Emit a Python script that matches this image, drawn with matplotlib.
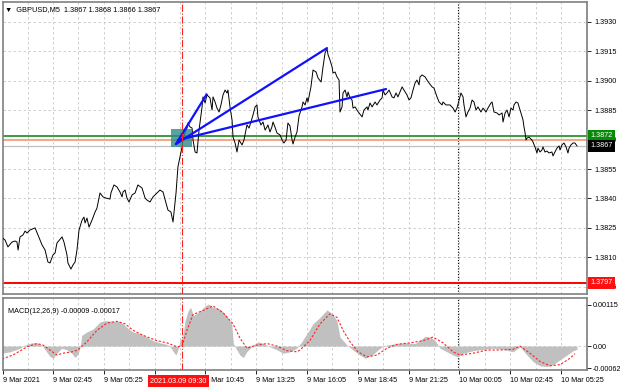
import matplotlib
matplotlib.use("Agg")
import matplotlib.pyplot as plt
import matplotlib.transforms as mtransforms
from matplotlib.patches import Rectangle
import numpy as np

plt.rcParams['font.family'] = ['Liberation Sans', 'DejaVu Sans']
plt.rcParams['font.size'] = 5.2

# x = 5-minute bars counted from 9 Mar 2021 00:00
price_bar = [1.3, 2.8, 4.6, 7.2, 9.1, 10.3, 11.0, 12.2, 14.1, 15.4, 16.6, 18.5, 21.7, 23.5, 26.1, 28.0,
             29.8, 31.1, 33.0, 34.3, 35.5, 38.7, 39.9, 41.8, 42.4, 44.3, 45.6, 46.9, 48.1, 49.4, 51.3,
             52.5, 53.2, 54.4, 55.7, 57.6, 59.5, 60.7, 62.6, 64.5, 66.4, 68.9, 69.5, 71.4, 73.3, 75.2,
             76.5, 77.1, 78.4, 79.6, 80.9, 82.8, 84.7, 86.5, 89.1, 91.0, 92.2, 94.1, 96.0, 98.5, 100.4,
             102.3, 104.2, 105.4, 107.3, 108.6, 109.2, 110.5, 111.7, 113.0, 114.3, 114.9, 116.2, 117.4,
             118.0, 119.3, 120.6, 121.2, 122.5, 123.7, 125.0, 126.9, 127.5, 128.8, 130.0, 131.9, 133.2,
             133.8, 135.1, 136.3, 137.6, 138.8, 140.1, 141.4, 142.6, 143.2, 144.5, 145.8, 146.4, 147.7,
             148.9, 150.2, 152.1, 153.3, 154.6, 155.2, 156.5, 157.7, 159.0, 160.3, 161.5, 162.1, 164.0,
             165.3, 166.6, 167.8, 168.4, 169.7, 170.9, 171.6, 172.8, 174.1, 176.0, 177.3, 178.5, 179.8,
             181.0, 182.3, 183.6, 184.2, 185.5, 186.7, 188.0, 189.9, 190.5, 191.8, 193.0, 193.6, 195.5,
             196.8, 198.7, 200.0, 201.9, 203.1, 204.4, 205.6, 206.3, 207.5, 208.8, 209.4, 210.7, 211.9,
             213.2, 213.8, 215.1, 215.7, 217.0, 218.2, 218.9, 220.1, 221.4, 222.0, 223.3, 224.5, 225.8,
             227.7, 228.9, 230.8, 231.4, 232.7, 234.0, 235.9, 237.1, 239.0, 240.3, 240.9, 242.2, 243.4,
             244.7, 246.6, 247.8, 249.1, 250.3, 251.6, 252.9, 254.1, 256.0, 257.3, 258.5, 259.8, 261.1,
             262.3, 263.6, 264.2, 265.5, 267.4, 268.6, 269.9, 271.8, 273.0, 274.9, 276.2, 278.1, 278.7,
             280.6, 283.1, 285.0, 286.3, 287.5, 288.8, 290.0, 291.3, 291.9, 293.2, 294.4, 295.7, 297.0,
             298.2, 299.5, 300.7, 302.6, 303.9, 305.8, 307.0, 308.9, 309.6, 310.8, 312.7, 314.0, 315.9,
             316.5, 317.8, 319.0, 320.3, 321.5, 322.8, 323.4, 324.7, 325.9, 326.6, 327.8, 329.1, 329.7,
             330.3, 331.0, 331.6, 332.9, 334.7, 335.4, 336.6, 337.9, 338.5, 339.8, 341.0, 341.7, 342.9,
             344.2, 345.4, 347.3, 348.0, 349.2, 350.5, 351.8, 352.4, 353.6, 354.9, 356.2, 357.4, 358.1,
             359.3, 360.6, 361.8, 363.1]
price = [1.38198, 1.38188, 1.38153, 1.38178, 1.38183, 1.38178, 1.38137, 1.38204, 1.38214, 1.38234,
         1.38224, 1.38239, 1.38250, 1.38214, 1.38163, 1.38137, 1.38076, 1.38071, 1.38112, 1.38122,
         1.38173, 1.38204, 1.38178, 1.38112, 1.38071, 1.38040, 1.38061, 1.38076, 1.38137, 1.38239,
         1.38290, 1.38305, 1.38275, 1.38300, 1.38254, 1.38290, 1.38331, 1.38351, 1.38428, 1.38408,
         1.38402, 1.38397, 1.38428, 1.38469, 1.38459, 1.38433, 1.38408, 1.38433, 1.38443, 1.38402,
         1.38382, 1.38418, 1.38428, 1.38469, 1.38453, 1.38402, 1.38392, 1.38382, 1.38408, 1.38428,
         1.38443, 1.38433, 1.38377, 1.38341, 1.38331, 1.38280, 1.38326, 1.38428, 1.38561, 1.38612,
         1.38663, 1.38709, 1.38734, 1.38759, 1.38785, 1.38765, 1.38759, 1.38698, 1.38637, 1.38632,
         1.38749, 1.38867, 1.38918, 1.38887, 1.38928, 1.38913, 1.38851, 1.38918, 1.38892, 1.38861,
         1.38841, 1.38877, 1.38928, 1.38953, 1.38938, 1.38953, 1.38867, 1.38800, 1.38713, 1.38683,
         1.38637, 1.38698, 1.38673, 1.38698, 1.38749, 1.38775, 1.38759, 1.38790, 1.38826, 1.38867,
         1.38877, 1.38816, 1.38775, 1.38790, 1.38749, 1.38765, 1.38775, 1.38739, 1.38765, 1.38790,
         1.38765, 1.38734, 1.38724, 1.38698, 1.38683, 1.38698, 1.38785, 1.38770, 1.38698, 1.38678,
         1.38713, 1.38739, 1.38821, 1.38867, 1.38892, 1.38877, 1.38913, 1.38892, 1.38969, 1.39055,
         1.39045, 1.39014, 1.38994, 1.39071, 1.39142, 1.39164, 1.39132, 1.39106, 1.39071, 1.39040,
         1.39045, 1.39020, 1.39004, 1.38841, 1.38867, 1.38938, 1.38953, 1.38918, 1.38943, 1.38913,
         1.38902, 1.38861, 1.38867, 1.38851, 1.38836, 1.38816, 1.38851, 1.38867, 1.38851, 1.38887,
         1.38867, 1.38892, 1.38877, 1.38902, 1.38913, 1.38953, 1.38928, 1.38938, 1.38953, 1.38918,
         1.38913, 1.38938, 1.38918, 1.38943, 1.38969, 1.38953, 1.38928, 1.38902, 1.38913, 1.38953,
         1.38989, 1.39004, 1.38979, 1.39020, 1.39030, 1.39020, 1.39004, 1.38989, 1.38969, 1.38963,
         1.38918, 1.38892, 1.38877, 1.38892, 1.38877, 1.38877, 1.38861, 1.38841, 1.38861, 1.38902,
         1.38938, 1.38918, 1.38877, 1.38816, 1.38841, 1.38861, 1.38902, 1.38892, 1.38851, 1.38867,
         1.38841, 1.38861, 1.38841, 1.38861, 1.38887, 1.38892, 1.38841, 1.38836, 1.38826, 1.38836,
         1.38790, 1.38836, 1.38851, 1.38816, 1.38861, 1.38851, 1.38877, 1.38892, 1.38887, 1.38867,
         1.38836, 1.38800, 1.38765, 1.38739, 1.38698, 1.38708, 1.38713, 1.38698, 1.38688, 1.38663,
         1.38632, 1.38657, 1.38637, 1.38647, 1.38663, 1.38637, 1.38642, 1.38632, 1.38637, 1.38617,
         1.38637, 1.38657, 1.38668, 1.38647, 1.38673, 1.38683, 1.38663, 1.38632, 1.38657, 1.38673,
         1.38683, 1.38683, 1.38668]

hist_bar = [0.7, 5.9, 12.2, 15.4, 19.6, 22.7, 25.9, 29.0, 31.1, 33.2, 35.3, 38.5, 41.6, 44.8, 46.9,
            49.0, 50.4, 51.1, 54.2, 58.4, 62.6, 65.8, 70.0, 74.1, 77.3, 80.4, 83.6, 87.8, 92.0, 96.2,
            100.4, 104.6, 106.7, 108.8, 110.5, 112.0, 113.0, 114.7, 116.2, 118.2, 119.7, 121.4, 123.5,
            125.6, 128.8, 130.8, 134.0, 138.2, 142.4, 145.6, 146.6, 148.7, 150.8, 152.9, 155.0, 159.2,
            162.3, 165.5, 169.7, 173.9, 178.1, 182.3, 186.5, 189.7, 193.0, 196.8, 201.2, 205.6, 208.8,
            211.9, 213.8, 218.2, 222.0, 226.4, 229.6, 234.0, 239.0, 243.4, 249.7, 256.0, 261.1, 264.2,
            267.4, 270.5, 273.7, 276.8, 281.2, 285.0, 288.1, 291.3, 297.6, 303.9, 310.2, 316.5, 322.8,
            327.2, 331.6, 335.4, 339.8, 344.2, 348.0, 352.4, 356.8, 360.6, 363.1]
macd_hist = [-0.00020, -0.00016, -0.00006, 0.00003, 0.00009, 0.00009, 0.00003, -0.00016, -0.00029,
             -0.00034, -0.00020, -0.00006, -0.00010, -0.00020, -0.00032, -0.00020, 0.00007, 0.00030,
             0.00039, 0.00048, 0.00067, 0.00071, 0.00069, 0.00069, 0.00062, 0.00048, 0.00039, 0.00035,
             0.00025, 0.00015, 0.00009, 0.00005, 0.00000, -0.00016, -0.00025, -0.00006, 0.00016, 0.00025,
             0.00071, 0.00099, 0.00108, 0.00085, 0.00091, 0.00097, 0.00112, 0.00117, 0.00108, 0.00103,
             0.00085, 0.00062, 0.00007, -0.00010, -0.00025, -0.00032, -0.00016, 0.00003, 0.00012,
             0.00007, -0.00002, -0.00010, -0.00020, -0.00016, -0.00006, 0.00012, 0.00035, 0.00062,
             0.00080, 0.00101, 0.00090, 0.00071, 0.00025, 0.00003, -0.00011, -0.00025, -0.00034,
             -0.00025, -0.00006, 0.00003, 0.00007, 0.00009, 0.00007, 0.00016, 0.00027, 0.00025, 0.00016,
             -0.00006, -0.00016, -0.00025, -0.00030, -0.00020, -0.00013, -0.00009, -0.00006, -0.00009,
             -0.00016, -0.00002, -0.00025, -0.00043, -0.00055, -0.00057, -0.00052, -0.00038, -0.00025,
             -0.00013, -0.00009]

sig_bar = [0.9, 7.8, 16.6, 22.9, 26.7, 31.1, 35.5, 39.3, 45.0, 48.7, 54.4, 60.7, 67.0, 73.3, 78.4,
           83.4, 89.7, 98.5, 104.8, 111.1, 114.3, 117.4, 121.2, 127.5, 133.8, 140.1, 146.4, 150.8,
           155.2, 161.5, 167.8, 174.1, 180.4, 186.7, 188.6, 194.9, 201.2, 207.5, 211.9, 215.7, 220.1,
           225.1, 230.8, 237.1, 243.4, 249.7, 257.9, 266.1, 272.4, 278.7, 285.0, 289.4, 297.6, 306.4,
           314.6, 322.8, 327.2, 333.5, 339.8, 346.1, 352.4, 358.7, 361.8]
signal = [-0.00036, -0.00025, -0.00002, 0.00007, 0.00003, -0.00011, -0.00025, -0.00020, -0.00016,
          -0.00011, 0.00012, 0.00044, 0.00064, 0.00069, 0.00062, 0.00044, 0.00030, 0.00015, 0.00009,
          -0.00002, 0.00000, 0.00044, 0.00088, 0.00099, 0.00112, 0.00093, 0.00062, 0.00022, -0.00006,
          0.00003, 0.00007, 0.00000, -0.00013, -0.00016, -0.00011, 0.00016, 0.00062, 0.00090, 0.00080,
          0.00044, 0.00012, -0.00016, -0.00030, -0.00025, -0.00006, 0.00005, 0.00009, 0.00015,
          0.00025, 0.00009, -0.00016, -0.00025, -0.00020, -0.00011, -0.00011, -0.00009, 0.00000,
          -0.00020, -0.00043, -0.00055, -0.00052, -0.00034, -0.00021]

# levels and drawn objects
level_green = 1.3872
level_salmon = 1.3870
last_price = 1.3867
level_red = 1.3797
cursor_bar = 114          # 9 Mar 09:30
day_sep_bar = 288         # 10 Mar 00:00
trend_lines = [((110.5, 1.38678), (205.6, 1.39167)),
               ((111.7, 1.38698), (242.8, 1.38958)),
               ((110.5, 1.38678), (129.8, 1.38931))]
box_bars = (107.3, 120.6)
box_prices = (1.38661, 1.38753)

price_ticks = [1.3795, 1.3810, 1.3825, 1.3840, 1.3855, 1.3870, 1.3885, 1.3900, 1.3915, 1.3930]
macd_ticks = [-0.00062, 0.0, 0.00115]
macd_tick_labels = ['-0.00062', '0.00', '0.00115']
time_ticks = [1.5, 33, 65, 97, 129, 161, 193, 225, 257, 289, 321, 353]
time_labels = ['9 Mar 2021', '9 Mar 02:45', '9 Mar 05:25', '9 Mar 08:05', '9 Mar 10:45', '9 Mar 13:25',
               '9 Mar 16:05', '9 Mar 18:45', '9 Mar 21:25', '10 Mar 00:05', '10 Mar 02:45',
               '10 Mar 05:25']

W, H = 620, 388
fig = plt.figure(figsize=(W / 100, H / 100), dpi=100)
ax = fig.add_axes([3 / W, (H - 294) / H, 584 / W, 292 / H])
ax2 = fig.add_axes([3 / W, (H - 370) / H, 584 / W, 72 / H], sharex=ax)

grid_kw = dict(color='#c8c8c8', lw=0.6, ls=(0, (3, 3)), zorder=0)
grid_bars = np.arange(17, 370, 16)
for a in (ax, ax2):
    for g in grid_bars:
        a.axvline(g, **grid_kw)
    for s in a.spines.values():
        s.set_color('#808080')
        s.set_linewidth(1.2)
    a.yaxis.tick_right()
    a.tick_params(axis='y', length=3, width=0.6, pad=2, colors='black', labelsize=5.2)
    a.set_facecolor('white')
ax2.tick_params(axis='y', pad=1.2)

for p in price_ticks:
    ax.axhline(p, **grid_kw)

# main panel
ax.plot(price_bar, price, color='black', lw=0.7, zorder=3)
ax.axhline(last_price, color='#c0c0c0', lw=0.9, zorder=2)
ax.axhline(level_salmon, color='#f6a585', lw=1.4, zorder=2)
ax.axhline(level_green, color='#1a8a1a', lw=1.2, zorder=2)
ax.axhline(level_red, color='#ff0000', lw=1.4, zorder=2)
ax.add_patch(Rectangle((box_bars[0], box_prices[0]), box_bars[1] - box_bars[0],
                       box_prices[1] - box_prices[0], color='#2e8b8b', alpha=0.8, lw=0, zorder=4))
for (b0, p0), (b1, p1) in trend_lines:
    ax.plot([b0, b1], [p0, p1], color='#1010ff', lw=1.6, zorder=5, solid_capstyle='round')
ax.axvline(cursor_bar, color='#ff2020', lw=0.8, ls='-.', zorder=6)
ax.axvline(day_sep_bar, color='black', lw=0.8, ls=(0, (1, 1.5)), zorder=1)

ax.set_xlim(1.5, 369.4)
ax.set_ylim(1.379128, 1.394020)
ax.set_yticks(price_ticks)
ax.set_yticklabels(['%.4f' % p for p in price_ticks])
ax.tick_params(axis='x', bottom=False, labelbottom=False)

trans = mtransforms.blended_transform_factory(ax.transAxes, ax.transData)
for val, fc in [(level_green, '#078a07'), (last_price, '#000000'), (level_red, '#ff1010')]:
    ax.text(1.006, val, '%.4f' % val, transform=trans, ha='left', va='center', color='white',
            fontsize=5.2, clip_on=False, zorder=10,
            bbox=dict(boxstyle='square,pad=0.35', fc=fc, ec='none'))

ax.text(0.004, 0.985, '\u25bc  GBPUSD,M5  1.3867 1.3868 1.3866 1.3867', transform=ax.transAxes,
        ha='left', va='top', fontsize=5.3, color='black', zorder=10)

# MACD panel
ax2.fill_between(hist_bar, 0, macd_hist, color='#c0c0c0', lw=0, zorder=2)
ax2.plot(sig_bar, signal, color='#ff2020', lw=0.8, ls=(0, (2, 1.6)), zorder=3)
ax2.axhline(0, **grid_kw)
ax2.axvline(cursor_bar, color='#ff2020', lw=0.8, ls='-.', zorder=6)
ax2.axvline(day_sep_bar, color='black', lw=0.8, ls=(0, (1, 1.5)), zorder=1)
ax2.set_ylim(-0.000667, 0.00134)
ax2.set_yticks(macd_ticks)
ax2.set_yticklabels(macd_tick_labels)
ax2.set_xticks(time_ticks)
ax2.set_xticklabels(time_labels)
ax2.tick_params(axis='x', length=3, width=0.6, pad=2, labelsize=5.2)
for lab in ax2.get_xticklabels():
    lab.set_ha('left')
ax2.text(0.008, 0.86, 'MACD(12,26,9) -0.00009 -0.00017', transform=ax2.transAxes,
         ha='left', va='top', fontsize=5.2, color='black', zorder=10)

trans2 = mtransforms.blended_transform_factory(ax2.transData, ax2.transAxes)
ax2.text(cursor_bar - 2, -0.155, '2021.03.09 09:30', transform=trans2, ha='center', va='center',
         color='white', fontsize=5.2, clip_on=False, zorder=10,
         bbox=dict(boxstyle='square,pad=0.3', fc='#ff1010', ec='none'))

fig.savefig('out.png', dpi=100, facecolor='white')
